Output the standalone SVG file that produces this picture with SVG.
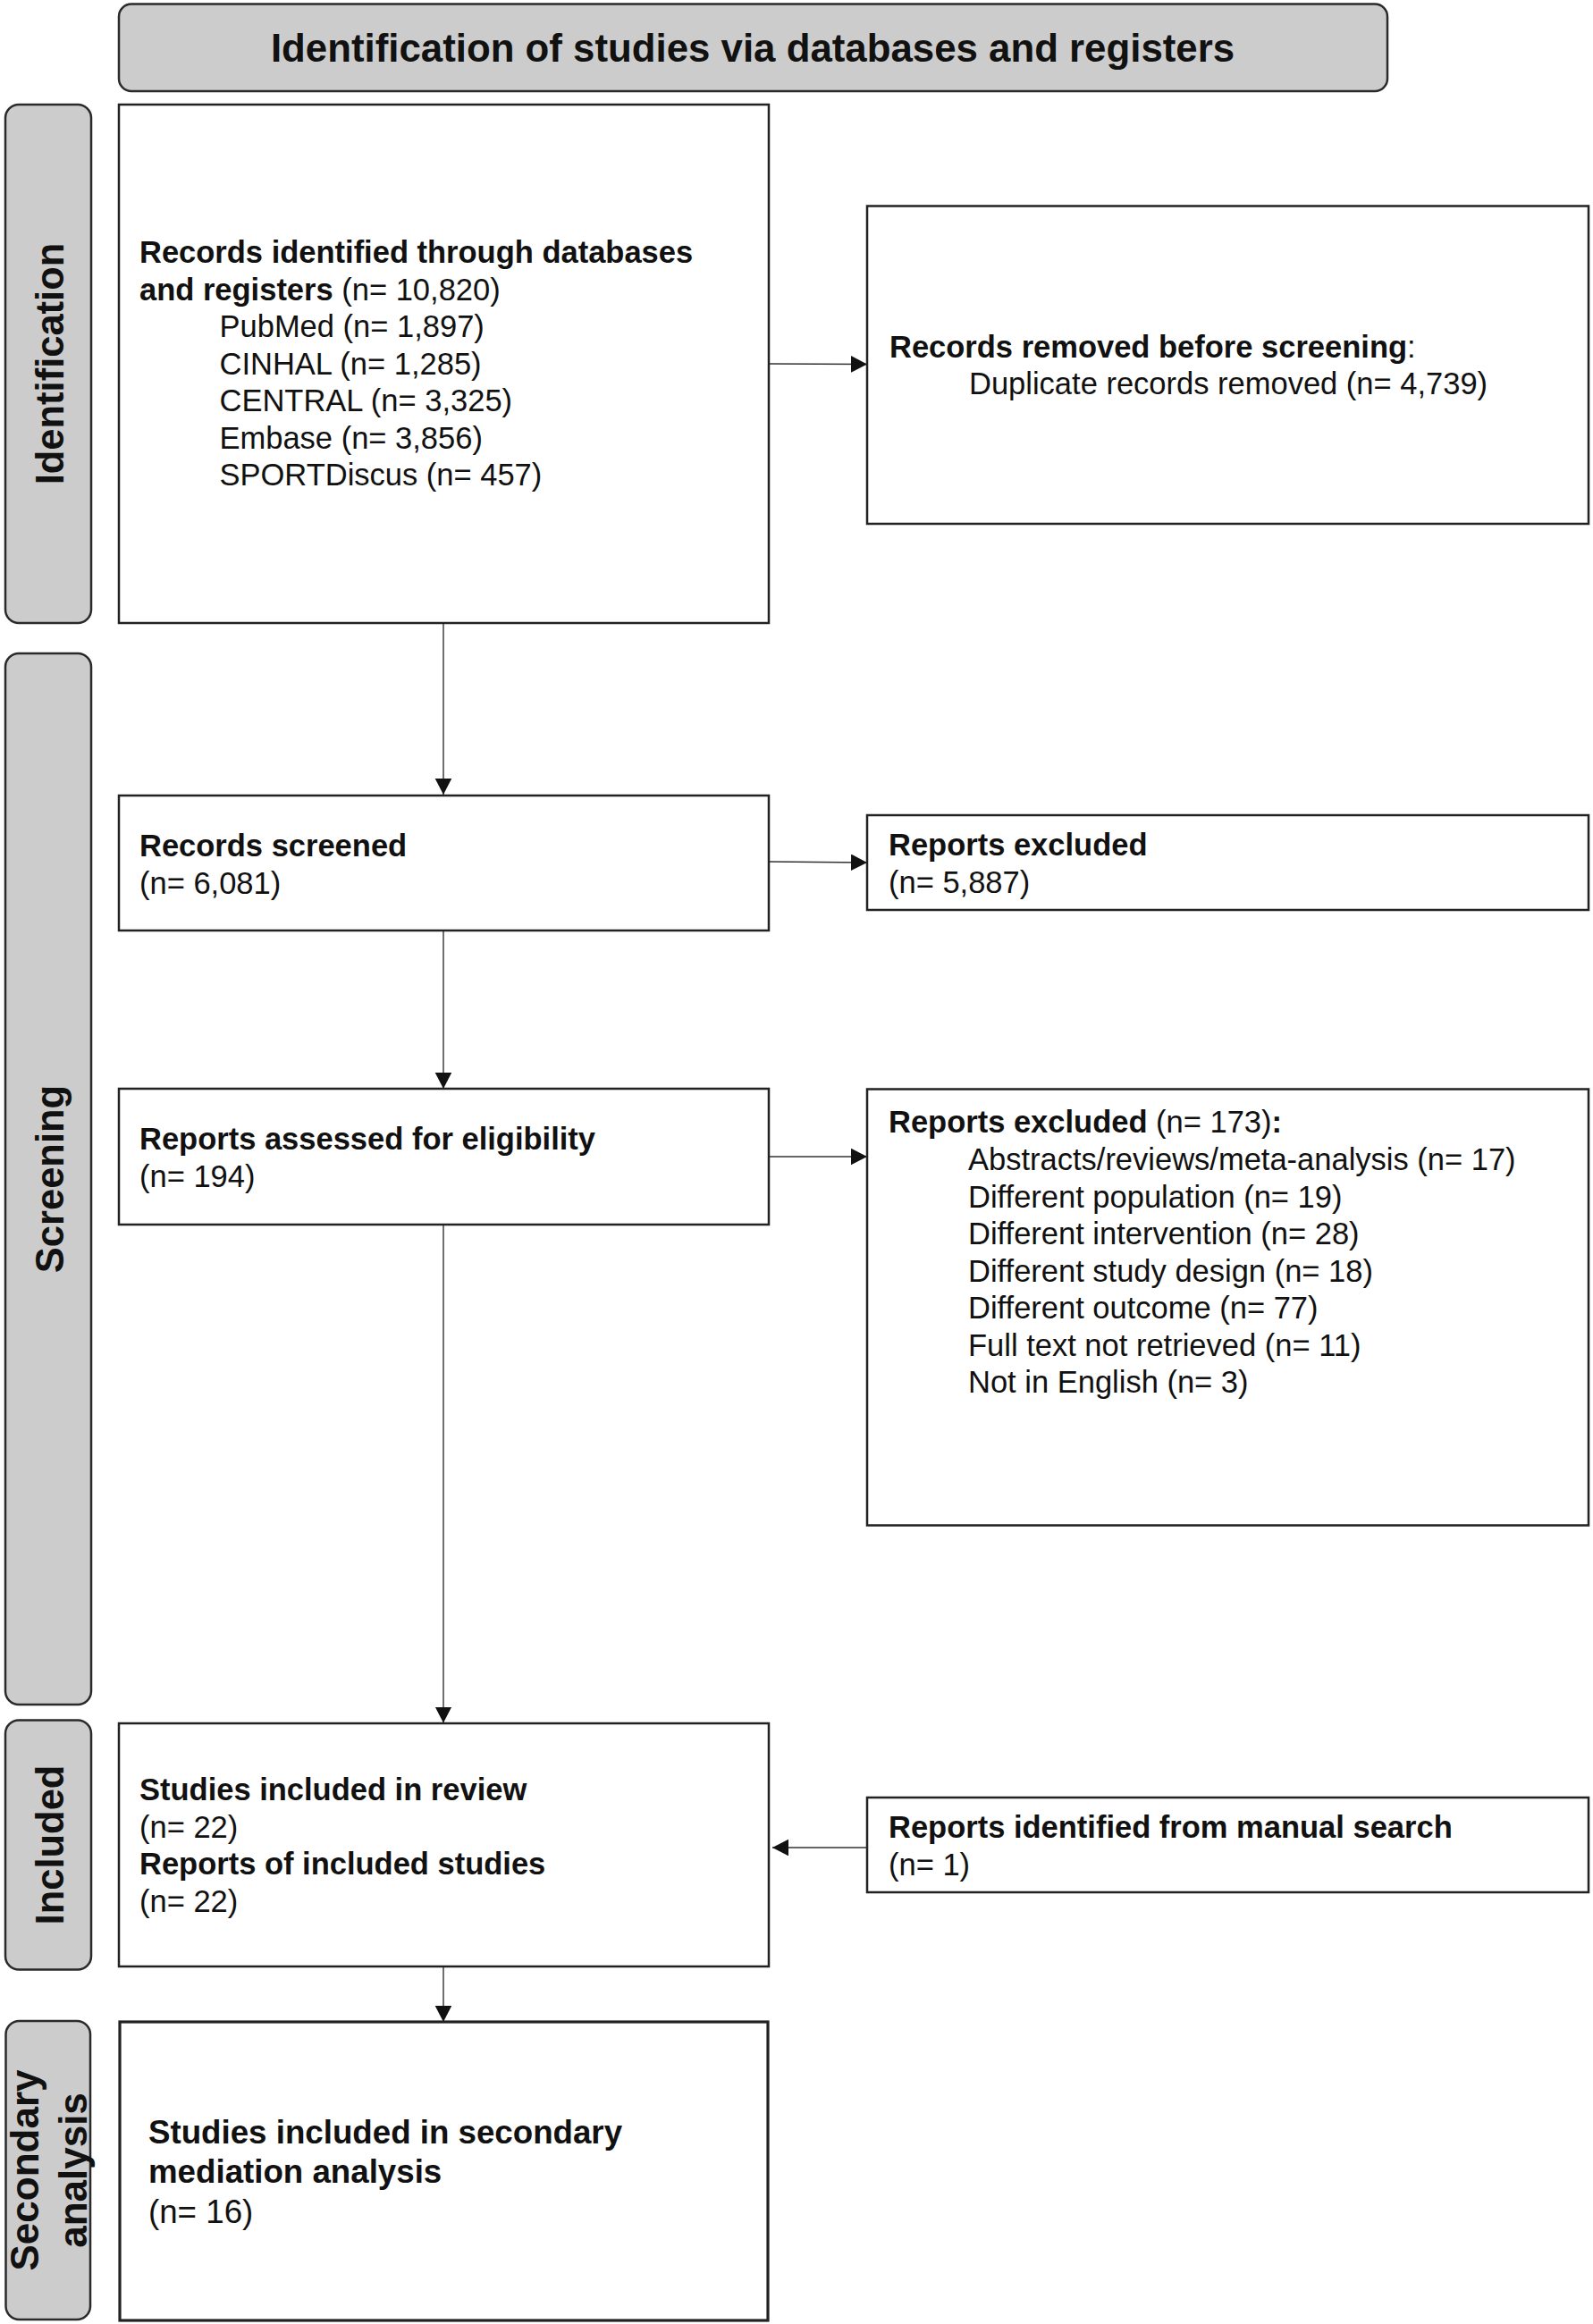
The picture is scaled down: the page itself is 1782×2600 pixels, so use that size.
<svg xmlns="http://www.w3.org/2000/svg" width="1782" height="2600" viewBox="0 0 1782 2600">
<style>
.box{fill:#ffffff;stroke:#222222;stroke-width:2.5}
.side{fill:#cccccc;stroke:#2a2a2a;stroke-width:2.5}
.conn{fill:none;stroke:#333333;stroke-width:1.4}
text{font-family:"Liberation Sans",Arial,Helvetica,sans-serif;fill:#111111}
.t{font-size:34.5px}
.b{font-weight:bold}
.n{font-weight:normal}
.hd{font-size:43.8px;font-weight:bold;text-anchor:middle}
.sl{font-size:43.5px;font-weight:bold;text-anchor:middle}
.t2{font-size:36.7px}
</style>
<defs>
<marker id="arr" markerUnits="userSpaceOnUse" markerWidth="20" markerHeight="20" refX="18" refY="9.3" orient="auto">
<path d="M0,0 L18,9.3 L0,18.6 Z" fill="#111111"/>
</marker>
</defs>
<rect width="1782" height="2600" fill="#ffffff"/>

<g id="header">
<rect class="side" x="133" y="4.5" width="1419" height="97.5" rx="14"/>
<text class="hd" x="842" y="69">Identification of studies via databases and registers</text>
</g>

<g id="side-identification">
<rect class="side" x="6" y="117" width="96" height="580" rx="15"/>
<text class="sl" x="71" y="407" transform="rotate(-90 71 407)">Identification</text>
</g>
<g id="side-screening">
<rect class="side" x="6" y="731" width="96" height="1176" rx="15"/>
<text class="sl" x="71" y="1319" transform="rotate(-90 71 1319)">Screening</text>
</g>
<g id="side-included">
<rect class="side" x="6" y="1924.5" width="96" height="279" rx="15"/>
<text class="sl" x="71" y="2064" transform="rotate(-90 71 2064)">Included</text>
</g>
<g id="side-secondary">
<rect class="side" x="6.5" y="2261" width="94.5" height="334" rx="15"/>
<text class="sl" style="font-size:44px" x="43" y="2428" transform="rotate(-90 43 2428)">Secondary</text>
<text class="sl" style="font-size:44px" x="97" y="2428" transform="rotate(-90 97 2428)">analysis</text>
</g>

<g id="connectors">
<line class="conn" x1="496" y1="697" x2="496" y2="889" marker-end="url(#arr)"/>
<line class="conn" x1="860" y1="407" x2="970" y2="407.5" marker-end="url(#arr)"/>
<line class="conn" x1="860" y1="964" x2="970" y2="965" marker-end="url(#arr)"/>
<line class="conn" x1="496" y1="1041" x2="496" y2="1218" marker-end="url(#arr)"/>
<line class="conn" x1="860" y1="1294" x2="970" y2="1294" marker-end="url(#arr)"/>
<line class="conn" x1="496" y1="1370" x2="496" y2="1927.5" marker-end="url(#arr)"/>
<line class="conn" x1="970" y1="2067" x2="864" y2="2067" marker-end="url(#arr)"/>
<line class="conn" x1="496" y1="2200" x2="496" y2="2262" marker-end="url(#arr)"/>
</g>

<g id="records-identified">
<rect class="box" x="133" y="117" width="727" height="580"/>
<text class="t b" x="156" y="294">Records identified through databases</text>
<text class="t b" x="156" y="335.5">and registers<tspan class="n"> (n= 10,820)</tspan></text>
<text class="t" x="245.5" y="377">PubMed (n= 1,897)</text>
<text class="t" x="245.5" y="418.5">CINHAL (n= 1,285)</text>
<text class="t" x="245.5" y="460">CENTRAL (n= 3,325)</text>
<text class="t" x="245.5" y="501.5">Embase (n= 3,856)</text>
<text class="t" x="245.5" y="543">SPORTDiscus (n= 457)</text>
</g>

<g id="records-removed">
<rect class="box" x="970" y="230.5" width="807" height="355.5"/>
<text class="t b" x="995" y="399.5">Records removed before screening<tspan class="n">:</tspan></text>
<text class="t" x="1084" y="441">Duplicate records removed (n= 4,739)</text>
</g>

<g id="records-screened">
<rect class="box" x="133" y="890" width="727" height="151"/>
<text class="t b" x="156" y="958">Records screened</text>
<text class="t" x="156" y="999.5">(n= 6,081)</text>
</g>

<g id="reports-excluded-1">
<rect class="box" x="970" y="912" width="807" height="106"/>
<text class="t b" x="994" y="957">Reports excluded</text>
<text class="t" x="994" y="999">(n= 5,887)</text>
</g>

<g id="reports-assessed">
<rect class="box" x="133" y="1218" width="727" height="152"/>
<text class="t b" x="156" y="1286">Reports assessed for eligibility</text>
<text class="t" x="156" y="1327.5">(n= 194)</text>
</g>

<g id="reports-excluded-2">
<rect class="box" x="970" y="1218.5" width="807" height="488"/>
<text class="t b" x="994" y="1267">Reports excluded<tspan class="n"> (n= 173)</tspan>:</text>
<text class="t" x="1083" y="1309">Abstracts/reviews/meta-analysis (n= 17)</text>
<text class="t" x="1083" y="1350.5">Different population (n= 19)</text>
<text class="t" x="1083" y="1392">Different intervention (n= 28)</text>
<text class="t" x="1083" y="1433.5">Different study design (n= 18)</text>
<text class="t" x="1083" y="1475">Different outcome (n= 77)</text>
<text class="t" x="1083" y="1516.5">Full text not retrieved (n= 11)</text>
<text class="t" x="1083" y="1558">Not in English (n= 3)</text>
</g>

<g id="studies-included">
<rect class="box" x="133" y="1928" width="727" height="272"/>
<text class="t b" x="156" y="2014">Studies included in review</text>
<text class="t" x="156" y="2055.5">(n= 22)</text>
<text class="t b" x="156" y="2097">Reports of included studies</text>
<text class="t" x="156" y="2138.5">(n= 22)</text>
</g>

<g id="manual-search">
<rect class="box" x="970" y="2011" width="807" height="106"/>
<text class="t b" x="994" y="2056">Reports identified from manual search</text>
<text class="t" x="994" y="2097.5">(n= 1)</text>
</g>

<g id="secondary-analysis">
<rect class="box" style="stroke-width:3.2" x="134" y="2262" width="725" height="334"/>
<text class="t2 b" x="166" y="2398">Studies included in secondary</text>
<text class="t2 b" x="166" y="2442">mediation analysis</text>
<text class="t2" x="166" y="2487">(n= 16)</text>
</g>
</svg>
